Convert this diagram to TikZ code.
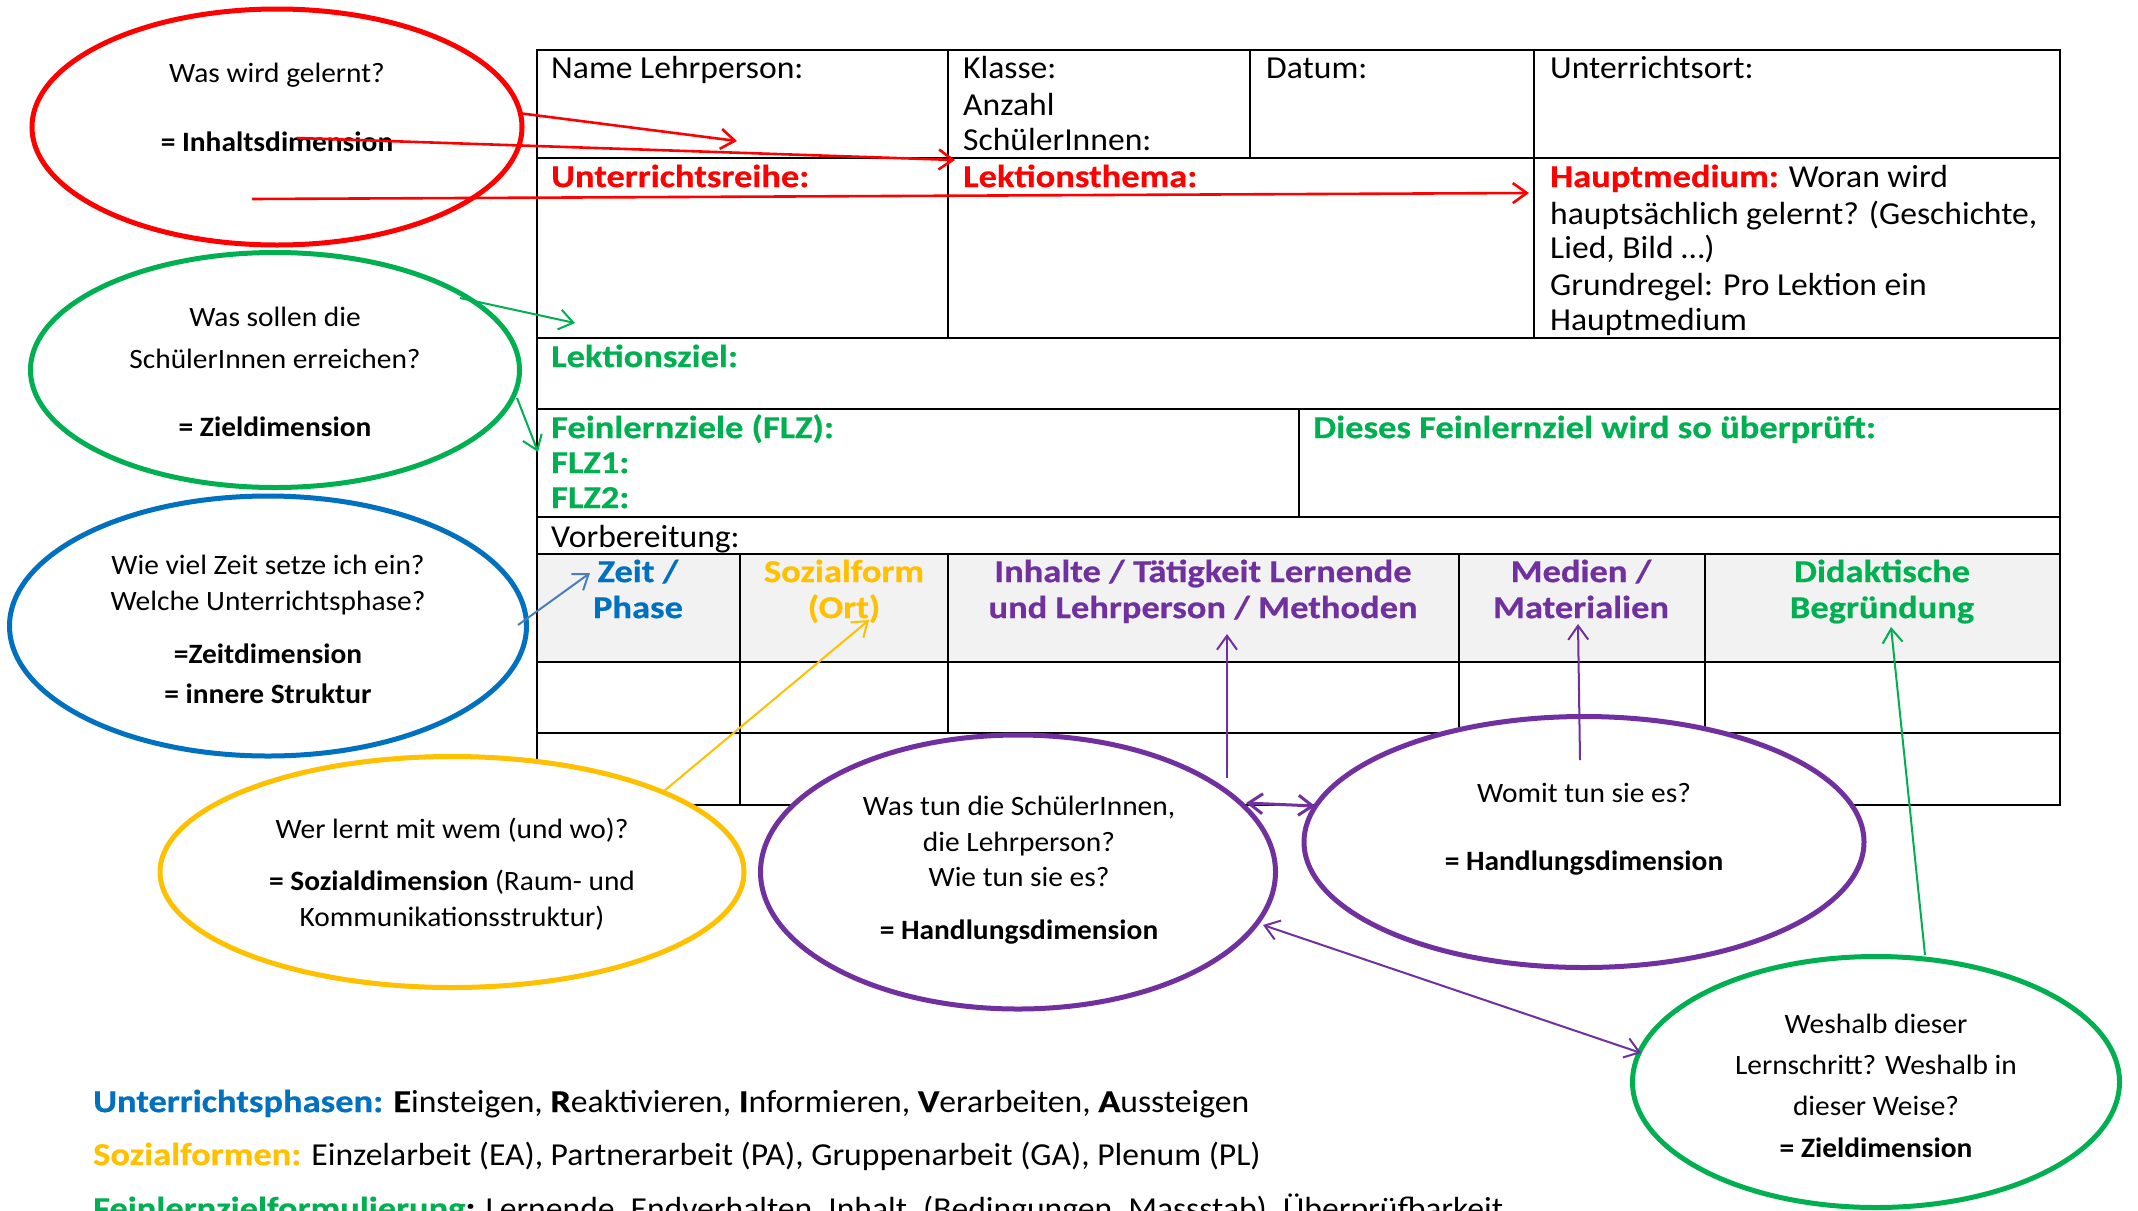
\documentclass[tikz,border=0pt]{standalone}
\usepackage{fontspec}
\setmainfont{Carlito}[FakeStretch=1.05]
\newfontfamily\wideboldfam{Carlito}[FakeStretch=1.14, FakeBold=0.5]
\newcommand{\wb}[1]{{\wideboldfam\bfseries #1}}
\usetikzlibrary{shapes.geometric,arrows.meta}
\definecolor{cred}{HTML}{FF0000}
\definecolor{cgreen}{HTML}{00B050}
\definecolor{cblue}{HTML}{0070C0}
\definecolor{carrowblue}{HTML}{4A7EBB}
\definecolor{cyellow}{HTML}{FFC000}
\definecolor{cpurple}{HTML}{7030A0}
\definecolor{chead}{HTML}{F2F2F2}
\begin{document}
\begin{tikzpicture}[x=1pt,y=-1pt,
  gridline/.style={line width=2.5pt, line cap=rect},
  ell/.style={ellipse, draw, line width=5pt, fill=white, inner sep=0pt},
  tcell/.style={inner sep=0pt, anchor=west, font=\fontsize{32}{36}\selectfont, text height=20.2pt, text depth=0pt},
  tbold/.style={tcell, font=\fontsize{32}{36}\selectfont\wideboldfam\bfseries},
  thead/.style={inner sep=0pt, anchor=center, font=\fontsize{32}{36}\selectfont\wideboldfam\bfseries, text height=20.2pt, text depth=0pt},
  etext/.style={inner sep=0pt, anchor=center, font=\fontsize{28}{32}\selectfont, text height=17.7pt, text depth=0pt},
  btext/.style={inner sep=0pt, anchor=west, font=\fontsize{32}{36}\selectfont, text height=20.2pt, text depth=0pt},
  barb/.tip={Straight Barb[length=14pt,width=20pt]},
  conn/.style={line width=2pt, -barb},
  biconn/.style={line width=2pt, barb-barb}]
\useasboundingbox (0,0) rectangle (2138,1210);
\fill[white] (0,0) rectangle (2138,1210);

% ---------- table ----------
\fill[chead] (537,554) rectangle (2060,662);
\foreach \yy in {50,158,338,409,517,554,662,733,805}
  \draw[gridline] (537,\yy) -- (2060,\yy);
\draw[gridline] (537,50) -- (537,805);
\draw[gridline] (2060,50) -- (2060,805);
\draw[gridline] (948,50) -- (948,338);
\draw[gridline] (1250,50) -- (1250,158);
\draw[gridline] (1534,50) -- (1534,338);
\draw[gridline] (1299,409) -- (1299,517);
\draw[gridline] (740,554) -- (740,805);
\draw[gridline] (948,554) -- (948,733);
\draw[gridline] (1459,554) -- (1459,733);
\draw[gridline] (1705,554) -- (1705,733);

\node[tcell] (name) at (551,68) {Name Lehrperson:};
\node[tcell] (klasse) at (963,68) {Klasse:};
\node[tcell] (anzahl) at (963,105) {Anzahl};
\node[tcell] (schueler) at (963,140) {SchülerInnen:};
\node[tcell] (datum) at (1266,68) {Datum:};
\node[tcell] (ort) at (1550,68) {Unterrichtsort:};
\node[tbold, text=cred] (reihe) at (551,177) {Unterrichtsreihe:};
\node[tbold, text=cred] (thema) at (963,177) {Lektionsthema:};
\node[tcell] (hm1) at (1550,177) {\textcolor{cred}{\wb{Hauptmedium:}} Woran wird};
\node[tcell] (hm2) at (1550,214) {hauptsächlich gelernt? (Geschichte,};
\node[tcell] (hm3) at (1550,248) {Lied, Bild …)};
\node[tcell] (hm4) at (1550,285) {Grundregel: Pro Lektion ein};
\node[tcell] (hm5) at (1550,320) {Hauptmedium};
\node[tbold, text=cgreen] (lziel) at (551,357) {Lektionsziel:};
\node[tbold, text=cgreen] (flz) at (551,428) {Feinlernziele (FLZ):};
\node[tbold, text=cgreen] (flz1) at (551,463) {FLZ1:};
\node[tbold, text=cgreen] (flz2) at (551,498) {FLZ2:};
\node[tbold, text=cgreen] (pruef) at (1313,428) {Dieses Feinlernziel wird so überprüft:};
\node[tcell] (vorb) at (551,537) {Vorbereitung:};

\node[thead, text=cblue] (h1a) at (638,572) {Zeit /};
\node[thead, text=cblue] (h1b) at (638,608) {Phase};
\node[thead, text=cyellow] (h2a) at (844,572) {Sozialform};
\node[thead, text=cyellow] (h2b) at (844,608) {(Ort)};
\node[thead, text=cpurple] (h3a) at (1203,572) {Inhalte / Tätigkeit Lernende};
\node[thead, text=cpurple] (h3b) at (1203,608) {und Lehrperson / Methoden};
\node[thead, text=cpurple] (h4a) at (1581,572) {Medien /};
\node[thead, text=cpurple] (h4b) at (1581,608) {Materialien};
\node[thead, text=cgreen] (h5a) at (1882,572) {Didaktische};
\node[thead, text=cgreen] (h5b) at (1882,608) {Begründung};

% ---------- ellipses ----------
\node[ell, draw=cred, minimum width=490pt, minimum height=236pt] (ered) at (277,127) {};
\node[ell, draw=cgreen, minimum width=489pt, minimum height=235pt] (egreen) at (275,370) {};
\node[ell, draw=cblue, minimum width=517pt, minimum height=260pt] (eblue) at (268,626) {};
\node[ell, draw=cyellow, minimum width=584pt, minimum height=231pt] (eyellow) at (452,872) {};
\node[ell, draw=cpurple, minimum width=515pt, minimum height=274pt] (epurple) at (1018,872) {};
\node[ell, draw=cpurple, minimum width=560pt, minimum height=251pt] (ewomit) at (1584,842) {};
\node[ell, draw=cgreen, minimum width=487pt, minimum height=251pt] (eweshalb) at (1876,1082) {};

\node[etext] (t1a) at (277,74) {Was wird gelernt?};
\node[etext] (t1b) at (277,143) {\textbf{= Inhaltsdimension}};
\node[etext] (t2a) at (275,318) {Was sollen die};
\node[etext] (t2b) at (275,360) {SchülerInnen erreichen?};
\node[etext] (t2c) at (275,428) {\textbf{= Zieldimension}};
\node[etext] (t3a) at (268,566) {Wie viel Zeit setze ich ein?};
\node[etext] (t3b) at (268,602) {Welche Unterrichtsphase?};
\node[etext] (t3c) at (268,655) {\textbf{=Zeitdimension}};
\node[etext] (t3d) at (268,695) {\textbf{= innere Struktur}};
\node[etext] (t4a) at (452,830) {Wer lernt mit wem (und wo)?};
\node[etext] (t4b) at (452,882) {\textbf{= Sozialdimension} (Raum- und};
\node[etext] (t4c) at (452,918) {Kommunikationsstruktur)};
\node[etext] (t5a) at (1019,807) {Was tun die SchülerInnen,};
\node[etext] (t5b) at (1019,843) {die Lehrperson?};
\node[etext] (t5c) at (1019,878) {Wie tun sie es?};
\node[etext] (t5d) at (1019,931) {\textbf{= Handlungsdimension}};
\node[etext] (t6a) at (1584,794) {Womit tun sie es?};
\node[etext] (t6b) at (1584,862) {\textbf{= Handlungsdimension}};
\node[etext] (t7a) at (1876,1025) {Weshalb dieser};
\node[etext] (t7b) at (1876,1066) {Lernschritt? Weshalb in};
\node[etext] (t7c) at (1876,1107) {dieser Weise?};
\node[etext] (t7d) at (1876,1149) {\textbf{= Zieldimension}};

% ---------- bottom legend ----------
\node[btext] (leg1) at (93,1102) {\textcolor{cblue}{\wb{Unterrichtsphasen:}} \wb{E}insteigen, \wb{R}eaktivieren, \wb{I}nformieren, \wb{V}erarbeiten, \wb{A}ussteigen};
\node[btext] (leg2) at (93,1155) {\textcolor{cyellow}{\wb{Sozialformen:}} Einzelarbeit (EA), Partnerarbeit (PA), Gruppenarbeit (GA), Plenum (PL)};
\node[btext] (leg3) at (93,1209) {\textcolor{cgreen}{\wb{Feinlernzielformulierung}}\wb{:} Lernende, Endverhalten, Inhalt, (Bedingungen, Massstab), Überprüfbarkeit};

% ---------- connectors ----------
\coordinate (r1s) at (518,113);  \coordinate (r1e) at (737,141);
\coordinate (r2s) at (297,138);  \coordinate (r2e) at (955,160);
\coordinate (r3s) at (252,199);  \coordinate (r3e) at (1529,193);
\coordinate (g1s) at (460,298);  \coordinate (g1e) at (575,323);
\coordinate (g2s) at (517,398);  \coordinate (g2e) at (538,452);
\coordinate (b1s) at (518,625);  \coordinate (b1e) at (590,573);
\coordinate (y1s) at (664,791);  \coordinate (y1e) at (869,620);
\coordinate (p1s) at (1227,778); \coordinate (p1e) at (1227,634);
\coordinate (p2s) at (1580,760); \coordinate (p2e) at (1578,624);
\coordinate (p3a) at (1246,803); \coordinate (p3b) at (1315,806);
\coordinate (p4a) at (1263,925); \coordinate (p4b) at (1641,1053);
\coordinate (g3s) at (1925,955); \coordinate (g3e) at (1891,627);

\draw[conn, cred, line width=2.6pt] (r1s) -- (r1e);
\draw[conn, cred, line width=2.6pt] (r2s) -- (r2e);
\draw[conn, cred, line width=2.6pt] (r3s) -- (r3e);
\draw[conn, cgreen] (g1s) -- (g1e);
\draw[conn, cgreen] (g2s) -- (g2e);
\draw[conn, carrowblue] (b1s) -- (b1e);
\draw[conn, cyellow] (y1s) -- (y1e);
\draw[conn, cpurple] (p1s) -- (p1e);
\draw[conn, cpurple] (p2s) -- (p2e);
\draw[biconn, cpurple, line width=3pt] (p3a) -- (p3b);
\draw[biconn, cpurple] (p4a) -- (p4b);
\draw[conn, cgreen] (g3s) -- (g3e);
\end{tikzpicture}
\end{document}
